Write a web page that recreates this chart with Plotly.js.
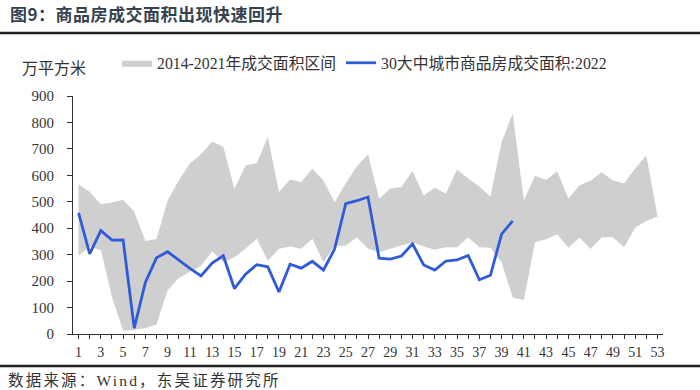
<!DOCTYPE html>
<html>
<head>
<meta charset="utf-8">
<script src="https://cdn.plot.ly/plotly-3.0.1.min.js"></script>
<style>html,body{margin:0;padding:0;background:#fff;}#chart{width:700px;height:390px;}</style>
</head>
<body>
<div id="chart"></div>
<script>
const weeks = [1,2,3,4,5,6,7,8,9,10,11,12,13,14,15,16,17,18,19,20,21,22,23,24,25,26,27,28,29,30,31,32,33,34,35,36,37,38,39,40,41,42,43,44,45,46,47,48,49,50,51,52,53];
const bandUpper = [566,537,491,497,508,462,352,359,505,580,645,680,728,708,548,637,646,745,537,584,574,626,580,498,570,634,680,511,550,556,616,524,553,531,622,588,558,520,725,834,505,598,582,615,512,562,580,612,580,569,626,675,448];
const bandLower = [296,330,318,140,12,15,22,36,165,212,235,258,312,272,290,322,360,277,322,331,322,360,271,334,334,366,322,309,322,334,347,331,319,328,328,366,328,326,271,138,129,347,358,377,326,365,321,366,366,328,402,427,444];
const weeks2022 = weeks.slice(0, 40);
const area2022 = [458,303,391,355,356,22,195,288,311,278,248,220,268,296,172,226,262,254,159,264,249,275,242,321,493,504,518,287,283,295,341,261,242,276,280,297,205,222,378,428];
const xTickText = weeks.map(w => (w % 2 === 1 ? String(w) : ''));
const yTicks = [0,100,200,300,400,500,600,700,800,900];

const serif = 'Liberation Serif, Noto Sans CJK SC, serif';
const cjk = 'Noto Sans CJK SC, sans-serif';

const traces = [
  {x: weeks, y: bandLower, type: 'scatter', mode: 'lines', line: {width: 0, color: 'rgba(0,0,0,0)'}, showlegend: false, hoverinfo: 'skip'},
  {x: weeks, y: bandUpper, type: 'scatter', mode: 'lines', fill: 'tonexty', fillcolor: '#d0cfd0', line: {width: 0, color: '#d0cfd0'}, name: '2014-2021年成交面积区间'},
  {x: weeks2022, y: area2022, type: 'scatter', mode: 'lines', line: {width: 2.8, color: '#2F5BD8'}, name: '30大中城市商品房成交面积:2022'}
];

const L = 73, R = 37, T = 96, B = 56;
const plotW = 700 - L - R, plotH = 390 - T - B;
const py = p => (390 - B - p) / plotH;
const px = p => (p - L) / plotW;

const layout = {
  width: 700, height: 390,
  margin: {l: L, r: R, t: T, b: B},
  paper_bgcolor: '#fff', plot_bgcolor: '#fff',
  title: {text: '<b>图9：商品房成交面积出现快速回升</b>', font: {family: cjk, size: 17, color: '#34424f'}, xref: 'container', yref: 'container', x: 0.014, xanchor: 'left', y: 1 - 15/390, yanchor: 'middle'},
  xaxis: {
    range: [0.5, 53.5], tickmode: 'array', tickvals: weeks, ticktext: xTickText,
    ticks: 'outside', ticklen: 4, tickcolor: '#333', showline: true, linecolor: '#333', linewidth: 1,
    showgrid: false, zeroline: false, tickfont: {family: serif, size: 14, color: '#333'}, ticklabelstandoff: 1
  },
  yaxis: {
    range: [0, 900], tickmode: 'array', tickvals: yTicks,
    ticks: 'outside', ticklen: 5, tickcolor: '#333', showline: true, linecolor: '#333', linewidth: 1,
    showgrid: false, zeroline: false, tickfont: {family: serif, size: 15, color: '#333'}, ticklabelstandoff: 10
  },
  legend: {orientation: 'h', x: px(117), xanchor: 'left', y: py(63), yanchor: 'middle', font: {family: serif, size: 15.8, color: '#333'}, bgcolor: 'rgba(0,0,0,0)', itemwidth: 30, traceorder: 'normal'},
  shapes: [
    {type: 'line', xref: 'paper', yref: 'paper', x0: px(0), x1: px(700), y0: py(33), y1: py(33), line: {color: '#222', width: 2.5}},
    {type: 'line', xref: 'paper', yref: 'paper', x0: px(0), x1: px(700), y0: py(366), y1: py(366), line: {color: '#222', width: 2.5}}
  ],
  annotations: [
    {text: '万平方米', xref: 'paper', yref: 'paper', x: px(20), xanchor: 'left', y: py(67), yanchor: 'middle', showarrow: false, font: {family: cjk, size: 16, color: '#333'}},
    {text: '数据来源：Wind，东吴证券研究所', xref: 'paper', yref: 'paper', x: px(8), xanchor: 'left', y: py(380), yanchor: 'middle', showarrow: false, font: {family: serif, size: 15.5, color: '#333'}}
  ]
};

Plotly.newPlot('chart', traces, layout, {displayModeBar: false, staticPlot: true}).then(gd => {
  const gr = gd.getBoundingClientRect();
  gd.querySelectorAll('.annotation-text').forEach(t => {
    if (t.textContent.indexOf('数据来源') === 0) {
      t.style.letterSpacing = '2.2px';
      const r = t.getBoundingClientRect();
      const shift = 8 - (r.left - gr.left);
      const x0 = parseFloat(t.getAttribute('x') || '0');
      t.setAttribute('x', x0 + shift);
    }
  });
  const title = gd.querySelector('.gtitle');
  if (title) {
    title.style.letterSpacing = '0.5px';
    const r = title.getBoundingClientRect();
    const shift = 10 - (r.left - gr.left);
    const x0 = parseFloat(title.getAttribute('x') || '0');
    title.setAttribute('x', x0 + shift);
  }
});
</script>
</body>
</html>
